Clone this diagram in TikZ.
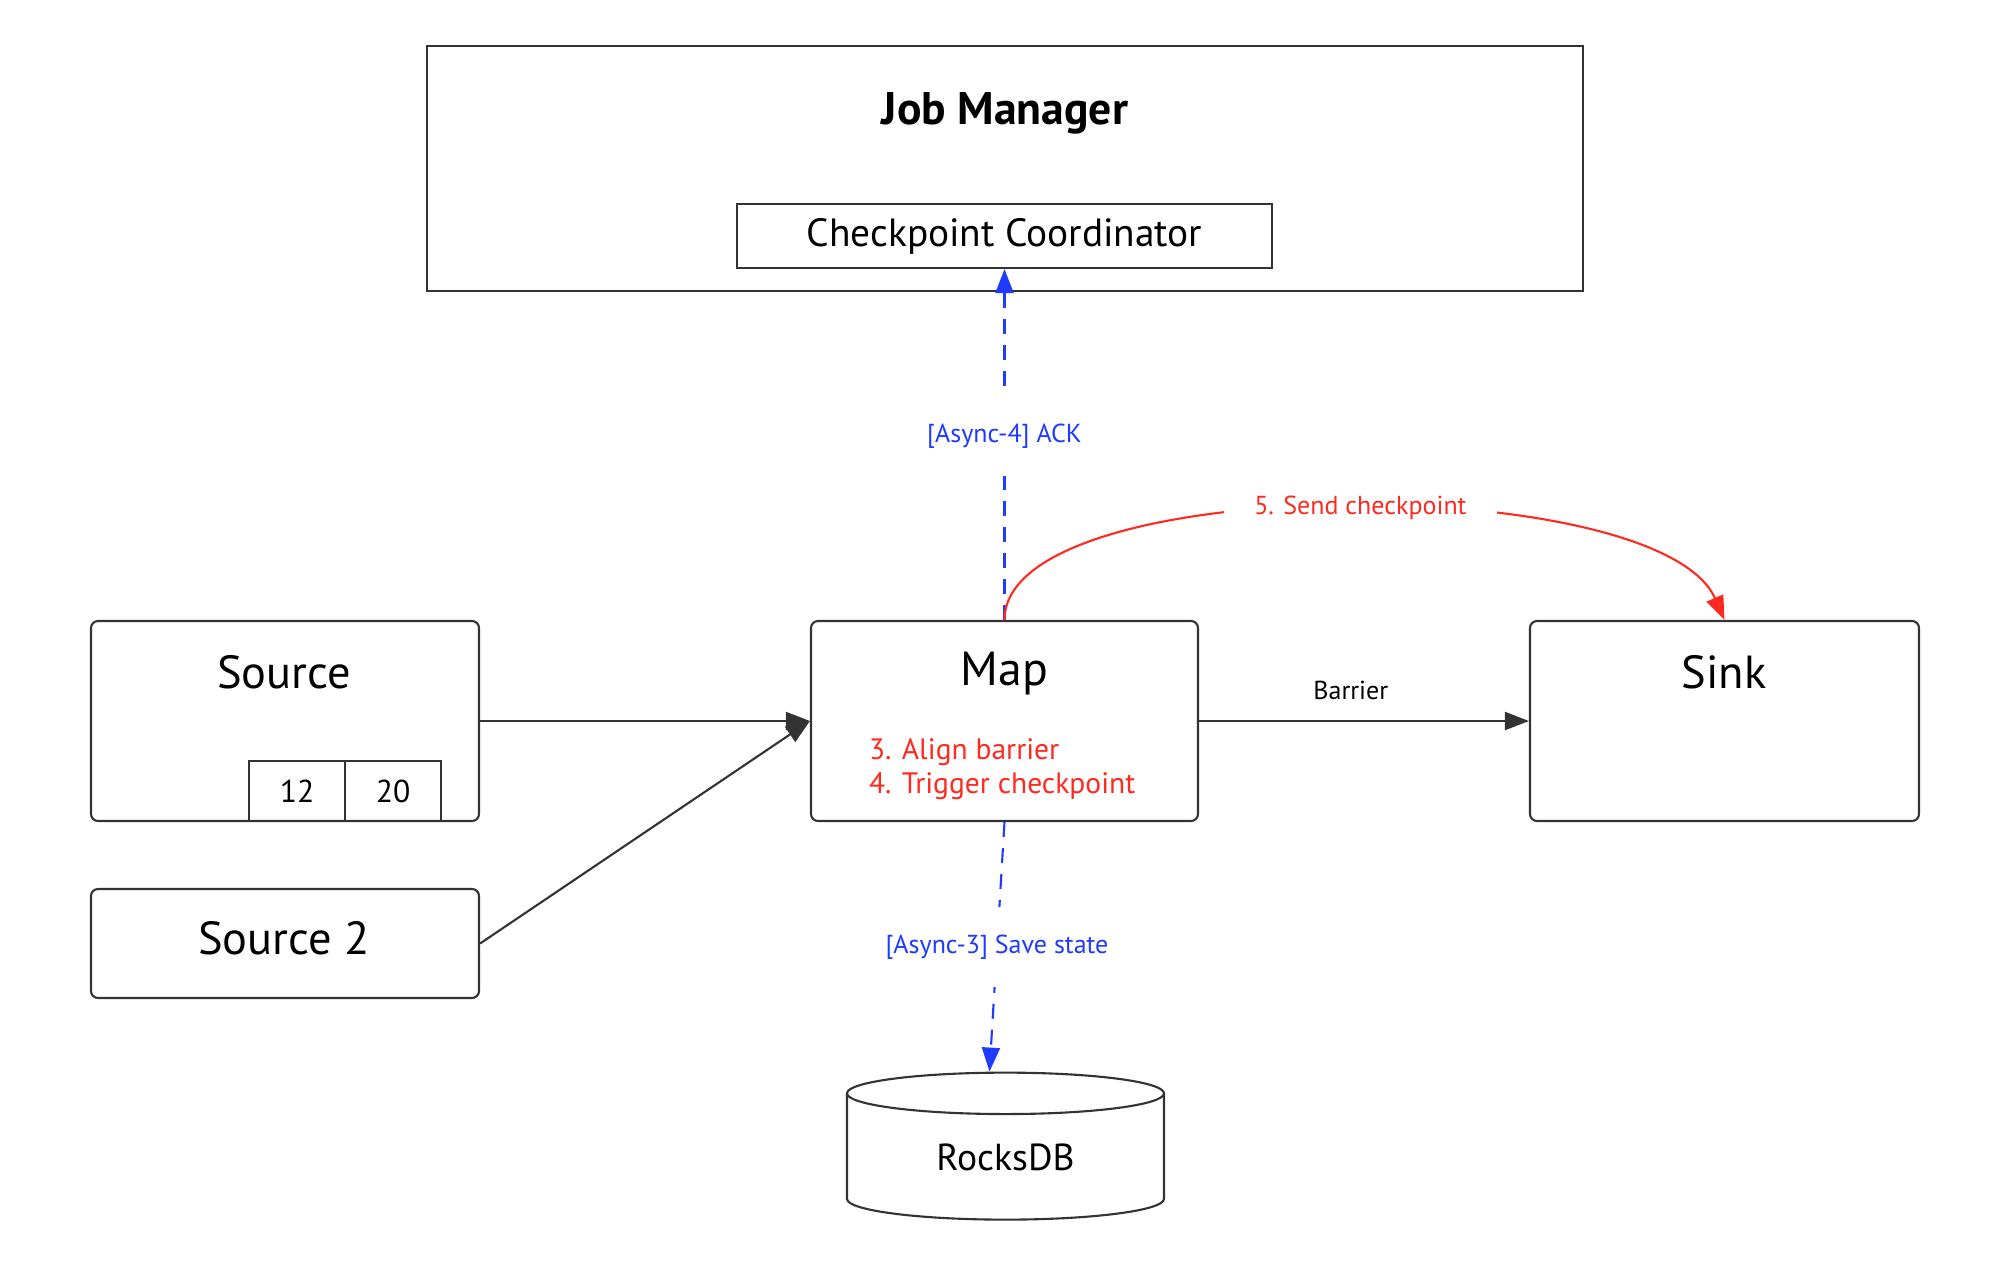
\documentclass[tikz,border=0pt]{standalone}
\usepackage{fontspec}
\setmainfont{PT Sans}
\usetikzlibrary{arrows.meta,shapes.geometric}

\definecolor{linegray}{HTML}{333333}
\definecolor{ackblue}{HTML}{1F3BFF}
\definecolor{stepred}{HTML}{FF2A1F}

\tikzset{
  opbox/.style={draw=linegray,rounded corners=0.07cm,inner sep=0},
  flatbox/.style={draw=linegray,inner sep=0},
  boxtitle/.style={anchor=base,font=\fontsize{13.2}{15}\selectfont},
  edgelabel/.style={fill=white,inner xsep=0.3cm,inner ysep=0.28cm,font=\fontsize{7.4}{8}\selectfont},
  flow/.style={draw=linegray,->},
  async/.style={draw=ackblue,->,dash pattern=on 0.15cm off 0.11cm},
}

\begin{document}
\begin{tikzpicture}[>={Triangle[length=0.24cm,width=0.18cm]},line width=0.6pt]
  \useasboundingbox (0,0) rectangle (19.99,-12.60);
  % Job Manager
  \node[flatbox,minimum width=11.56cm,minimum height=2.45cm] (jm) at (10.05,-1.685) {};
  \node[anchor=base,font=\bfseries\fontsize{13}{15}\selectfont] (jmtitle) at (10.05,-1.24) {Job Manager};
  \node[flatbox,minimum width=5.35cm,minimum height=0.64cm,font=\fontsize{11.2}{13}\selectfont] (cc) at (10.045,-2.36) {Checkpoint Coordinator};
  % Operatoren
  \node[opbox,minimum width=3.88cm,minimum height=2cm] (src) at (2.85,-7.21) {};
  \node[boxtitle] (srctitle) at (2.84,-6.88) {Source};
  \node[flatbox,minimum width=0.96cm,minimum height=0.6cm,font=\fontsize{9}{10}\selectfont] (c12) at (2.97,-7.91) {12};
  \node[flatbox,minimum width=0.96cm,minimum height=0.6cm,font=\fontsize{9}{10}\selectfont] (c20) at (3.93,-7.91) {20};
  \node[opbox,minimum width=3.88cm,minimum height=1.09cm] (src2) at (2.85,-9.435) {};
  \node[boxtitle] (src2title) at (2.84,-9.54) {Source 2};
  \node[opbox,minimum width=3.87cm,minimum height=2cm] (map) at (10.045,-7.21) {};
  \node[boxtitle,font=\fontsize{13.6}{15}\selectfont] (maptitle) at (10.045,-6.85) {Map};
  \node[anchor=north west,align=left,inner sep=0,text=stepred,font=\fontsize{8.4}{0.345cm}\selectfont] (mapsteps) at (8.68,-7.37) {3. Align barrier\\4. Trigger checkpoint};
  \node[opbox,minimum width=3.89cm,minimum height=2cm] (sink) at (17.245,-7.21) {};
  \node[boxtitle] (sinktitle) at (17.24,-6.88) {Sink};
  % State Backend
  \node[draw=linegray,cylinder,shape border rotate=90,shape aspect=0.3,minimum width=3.17cm,minimum height=1.47cm,inner sep=0,font=\fontsize{10.7}{12}\selectfont] (db) at (10.055,-11.57) {RocksDB};
  % Verbindungen
  \draw[flow] (src.east) -- (map.west);
  \draw[flow] (src2.east) -- (map.west);
  \draw[flow] (map.east) -- node[pos=0.46,above=0.08cm,font=\fontsize{7.4}{8}\selectfont] (barrier) {Barrier} (sink.west);
  \draw[async] (map.north) -- node[edgelabel,pos=0.524,text=ackblue] (ack) {[Async-4] ACK} (cc.south);
  \draw[async] (map.south) -- node[edgelabel,pos=0.5,text=ackblue] (save) {[Async-3] Save state} ([xshift=-0.16cm]db.north);
  \draw[draw=stepred,->] (map.north) .. controls +(0,1.5) and +(-0.66,1.5) .. node[edgelabel,pos=0.52,text=stepred] (send) {5. Send checkpoint} (sink.north);
\end{tikzpicture}
\end{document}
